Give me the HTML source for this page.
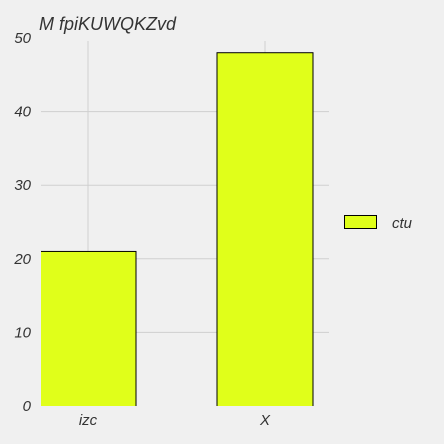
<!DOCTYPE html>
<html><head><meta charset="utf-8"><style>
body{margin:0;background:#f0f0f0;}
svg{display:block;font-family:"Liberation Sans",sans-serif;font-style:italic;}
</style></head><body>
<svg id="chart" width="444" height="444" viewBox="0 0 444 444">
<defs><clipPath id="pc"><rect x="41" y="30" width="288" height="376"/></clipPath></defs>
<rect width="444" height="444" fill="#f0f0f0"/>
<text x="39" y="30" font-size="18" fill="#333">M fpiKUWQKZvd</text>
<g id="grid"></g><g id="bars" clip-path="url(#pc)"></g><g id="ticks"></g>
<g>
<rect x="344.5" y="215.5" width="32" height="13" fill="#e0ff1a" stroke="#000"/>
<text x="392" y="228" font-size="15" fill="#333">ctu</text>
</g>
</svg>
<script>
const categories=["izc","X"];
const values=[21,48];
const yTicks=[0,10,20,30,40,50];
const ns="http://www.w3.org/2000/svg";
const L=41,R=329,T=38,B=406;
function y(v){return B-(v/50)*(B-T);}
function x(i){return 88+177*i;}
const bw=96;
function mk(t,a,p){const e=document.createElementNS(ns,t);for(const k in a)e.setAttribute(k,a[k]);document.getElementById(p).appendChild(e);return e;}
yTicks.forEach(v=>{
 if(v>0&&v<50){const g=mk('line',{x1:L,x2:R,y1:y(v),y2:y(v),stroke:'#cfcfcf'},'grid');
 
 }
 const t=mk('text',{x:31,y:y(v)+5,'font-size':15,fill:'#333','text-anchor':'end'},'ticks');t.textContent=v;
 
 
});
categories.forEach((c,i)=>{
 const g=mk('line',{x1:x(i),x2:x(i),y1:41,y2:B,stroke:'#cfcfcf'},'grid');
 
 
 let x0=x(i)-bw/2,x1=x(i)+bw/2;
 const r=mk('rect',{x:x0,y:y(values[i]),width:x1-x0,height:B-y(values[i])+2,fill:'#e0ff1a',stroke:'#000','stroke-width':1},'bars');
 
 
 const t=mk('text',{x:x(i),y:425,'font-size':15,fill:'#333','text-anchor':'middle'},'ticks');t.textContent=c;
 
 
});
</script>
</body></html>
